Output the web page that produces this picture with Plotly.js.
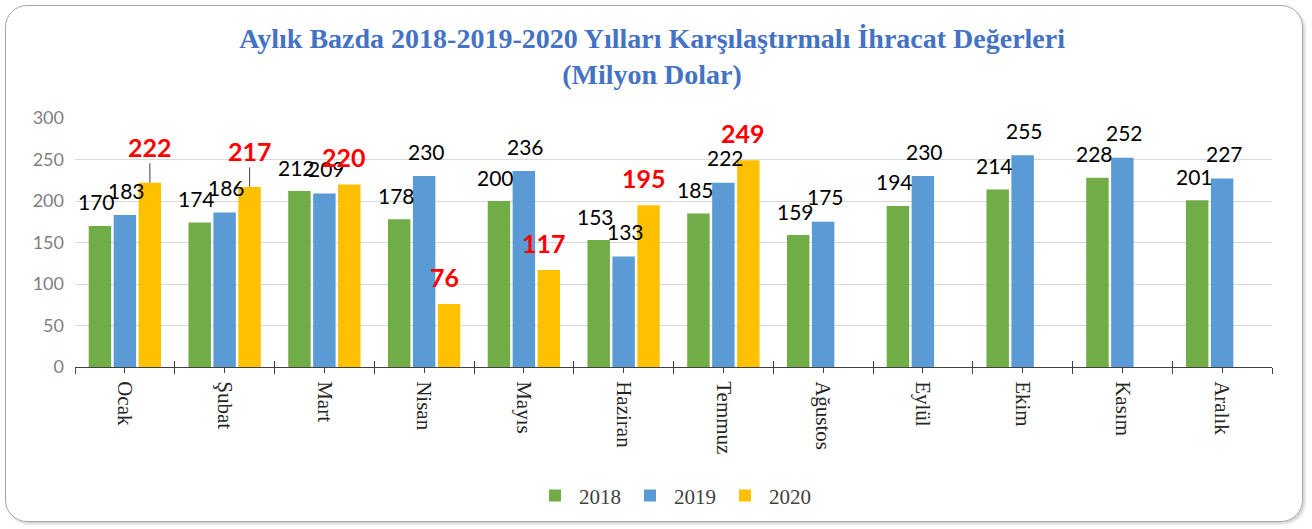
<!DOCTYPE html>
<html>
<head>
<meta charset="utf-8">
<script src="https://cdn.plot.ly/plotly-3.0.1.min.js"></script>
<style>
  html, body { margin: 0; padding: 0; background: #ffffff; }
  #chart { position: absolute; left: 0; top: 0; width: 1312px; height: 529px; }
  #frame { position: absolute; left: 5px; top: 5px; width: 1296px; height: 515px;
           border: 1.5px solid #a6a6a6; border-radius: 22px; pointer-events: none;
           box-shadow: 2px 2px 3px rgba(0,0,0,0.18); }
</style>
</head>
<body>
<div id="chart"></div>
<div id="frame"></div>
<script>
const months = ['Ocak','Şubat','Mart','Nisan','Mayıs','Haziran','Temmuz','Ağustos','Eylül','Ekim','Kasım','Aralık'];
const v2018 = [170,174,212,178,200,153,185,159,194,214,228,201];
const v2019 = [183,186,209,230,236,133,222,175,230,255,252,227];
const v2020 = [222,217,220,76,117,195,249,null,null,null,null,null];
const seriesNames = ['2018','2019','2020'];
const seriesColors = ['#70AD47','#5B9BD5','#FFC000'];
const yTicks = [0,50,100,150,200,250,300];
const leaderMonths = ['Ocak','Şubat'];   // 2020 labels drawn with a leader line

const allSeries = [v2018, v2019, v2020];
const traces = allSeries.map((vals, k) => ({
  type: 'bar',
  name: seriesNames[k],
  x: months,
  y: vals,
  marker: { color: seriesColors[k] },
  hoverinfo: 'x+y'
}));

const blackFont = { family: 'Lato, Carlito, sans-serif', size: 21, color: '#000000' };
const redFont = { family: 'Lato, Carlito, sans-serif', size: 25, color: '#FF0000', weight: 'bold' };
const labelStyle = [
  { xshift: -28, yshift: 24, font: blackFont },
  { xshift: 2,   yshift: 25, font: blackFont },
  { xshift: 20,  yshift: 27, font: redFont }
];
const annotations = [];
allSeries.forEach((vals, k) => {
  vals.forEach((v, i) => {
    if (v === null) return;
    const st = labelStyle[k];
    const a = {
      x: months[i], y: v, xref: 'x', yref: 'y',
      text: k === 2 ? '<b>' + v + '</b>' : String(v),
      showarrow: false,
      xshift: st.xshift, yshift: st.yshift,
      yanchor: 'middle', xanchor: 'center',
      font: st.font
    };
    if (k === 2 && leaderMonths.indexOf(months[i]) >= 0) {
      a.showarrow = true;
      a.arrowhead = 0; a.arrowwidth = 1; a.arrowcolor = '#404040';
      a.ax = 0; a.ay = -36; a.standoff = 0;
      a.yshift = 0; a.xshift = 25;
    }
    annotations.push(a);
  });
});

const n = months.length;
const centerTicks = months.map((m, i) => i);
const boundaryTicks = [];
for (let i = 0; i <= n; i++) boundaryTicks.push(i - 0.5);

const layout = {
  width: 1312, height: 529,
  paper_bgcolor: '#ffffff', plot_bgcolor: '#ffffff',
  margin: { l: 75, r: 40, t: 118, b: 162 },
  title: {
    text: 'Aylık Bazda 2018-2019-2020 Yılları Karşılaştırmalı İhracat Değerleri<br>(Milyon Dolar)',
    font: { family: 'Liberation Serif, serif', size: 28, color: '#4472C4', weight: 'bold' },
    x: 0.497, xanchor: 'center', y: 0.91, yanchor: 'top'
  },
  barmode: 'group',
  bargap: 0.25,
  bargroupgap: 0.1,
  showlegend: true,
  legend: {
    orientation: 'h', x: 0.5, xanchor: 'center', y: -0.435, yanchor: 'top',
    font: { family: 'Liberation Serif, serif', size: 21, color: '#404040' },
    itemwidth: 38, traceorder: 'normal'
  },
  xaxis: {
    type: 'category',
    categoryarray: months,
    tickangle: 90,
    tickson: 'boundaries',
    ticks: 'outside', ticklen: 6, tickcolor: '#404040', tickwidth: 1,
    showline: true, linecolor: '#404040', linewidth: 1,
    showgrid: false, automargin: false,
    ticklabelstandoff: 9,
    tickfont: { family: 'Liberation Serif, serif', size: 21, color: '#262626' },
    range: [-0.5, n - 0.5]
  },
  xaxis2: {
    overlaying: 'x', type: 'linear', range: [-0.5, n - 0.5],
    tickmode: 'array', tickvals: centerTicks, ticks: 'outside', ticklen: 5,
    tickcolor: '#404040', showticklabels: false, showgrid: false, zeroline: false, showline: false,
    automargin: false
  },
  xaxis3: {
    overlaying: 'x', type: 'linear', range: [-0.5, n - 0.5],
    tickmode: 'array', tickvals: boundaryTicks, ticks: 'inside', ticklen: 6,
    tickcolor: '#404040', showticklabels: false, showgrid: false, zeroline: false, showline: false,
    automargin: false
  },
  yaxis: {
    range: [0, 300],
    tickmode: 'array', tickvals: yTicks,
    showgrid: true, gridcolor: '#d9d9d9', gridwidth: 1,
    zeroline: false, showline: false, automargin: false,
    tickfont: { family: 'Lato, Carlito, sans-serif', size: 18, color: '#7f7f7f' },
    ticks: '', ticklabelstandoff: 10
  },
  annotations: annotations
};

traces.push({ type: 'scatter', x: [], y: [], xaxis: 'x2', yaxis: 'y', showlegend: false, hoverinfo: 'skip' });
traces.push({ type: 'scatter', x: [], y: [], xaxis: 'x3', yaxis: 'y', showlegend: false, hoverinfo: 'skip' });

Plotly.newPlot('chart', traces, layout, { displayModeBar: false, staticPlot: true });
</script>
</body>
</html>
